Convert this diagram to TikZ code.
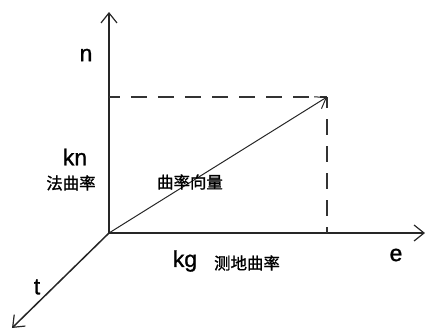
\documentclass[tikz,border=0pt]{standalone}
\usepackage{fontspec}
\setmainfont{Liberation Sans}
\newfontfamily\lat[FakeBold=1.2]{Liberation Sans}
\newfontfamily\cjk[FakeBold=1.2]{Noto Sans CJK SC}
\usetikzlibrary{arrows.meta}
\tikzset{
  axis/.style={line width=1.5bp, draw=black!85, -{Straight Barb[length=10bp,width=16bp,line width=1.2bp]}},
  vec/.style={line width=1bp, draw=black!85, -{Straight Barb[length=10bp,width=14bp,line width=1bp]}},
  guide/.style={line width=1.7bp, draw=black!80, dash pattern=on 16bp off 11bp, dash phase=5bp},
  lbl/.style={font=\lat\fontsize{23}{23}\selectfont, inner sep=0pt},
  zh/.style={font=\cjk\fontsize{16.5}{16.5}\selectfont, inner sep=0pt}
}
\begin{document}
\begin{tikzpicture}[x=1bp,y=1bp]
\useasboundingbox (-109,-98) rectangle (317,233);
\coordinate (O) at (0,0);
\coordinate (N) at (0,221);
\coordinate (E) at (316,0);
\coordinate (T) at (-97,-95);
\coordinate (P) at (218,136);
\coordinate (Pn) at (0,136);
\coordinate (Pe) at (218,0);

 \draw[axis] (O) -- (N);
 \draw[axis] (O) -- (E);
 \draw[axis] (O) -- (T);
 \draw[guide] (Pn) -- (P);
 \draw[guide] (P) -- (Pe);
 \draw[vec] (O) -- (P);

 \node[lbl] (n) at (-23,178) {n};
 \node[lbl] (kn) at (-34,76) {kn};
 \node[zh] (fa) at (-38,50) {法曲率};
 \node[zh] (qu) at (81,51) {曲率向量};
 \node[lbl] (kg) at (76,-28) {kg};
 \node[zh] (ce) at (138,-30) {测地曲率};
 \node[lbl] (e) at (287,-22) {e};
 \node[lbl] (t) at (-72,-54) {t};

\end{tikzpicture}
\end{document}
